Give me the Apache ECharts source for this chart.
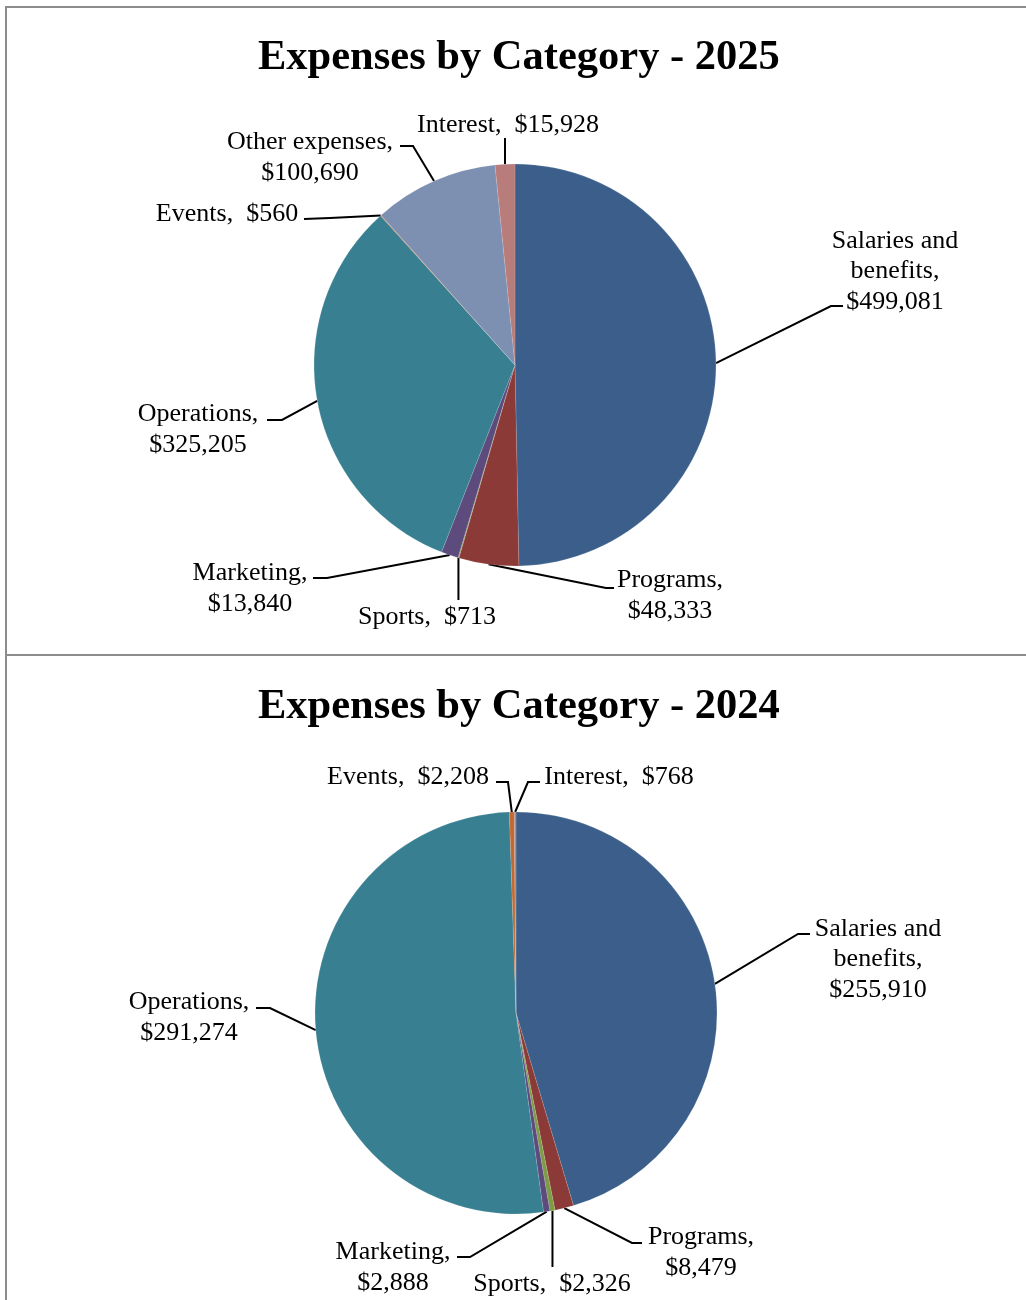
<!DOCTYPE html>
<html>
<head>
<meta charset="utf-8">
<script src="https://cdn.jsdelivr.net/npm/echarts@6/dist/echarts.min.js"></script>
<style>
  html, body { margin: 0; padding: 0; background: #fff; }
  #wrap { position: relative; width: 1026px; height: 1300px; overflow: hidden; background: #fff; }
  .box { position: absolute; border: 2px solid #8c8c8c; box-sizing: border-box; }
  #chart { position: absolute; left: 0; top: 0; width: 1026px; height: 1300px; }
</style>
</head>
<body>
<div id="wrap">
  <div class="box" style="left:5px; top:6px; width:1040px; height:650px;"></div>
  <div class="box" style="left:5px; top:654px; width:1040px; height:700px;"></div>
  <div id="chart"></div>
</div>
<script>
// ---- Data ----
const categories2025 = ['Salaries and benefits', 'Programs', 'Sports', 'Marketing', 'Operations', 'Events', 'Other expenses', 'Interest'];
const values2025 = [499081, 48333, 713, 13840, 325205, 560, 100690, 15928];

const categories2024 = ['Salaries and benefits', 'Programs', 'Sports', 'Marketing', 'Operations', 'Events', 'Interest'];
const values2024 = [255910, 8479, 2326, 2888, 291274, 2208, 768];

const titles = ['Expenses by Category - 2025', 'Expenses by Category - 2024'];

// ---- Styles ----
const colorMap = {
  'Salaries and benefits': '#3B5F8A',
  'Programs': '#8C3A37',
  'Sports': '#7E9B45',
  'Marketing': '#5E4B7E',
  'Operations': '#377F91',
  'Events': '#C06A33',
  'Other expenses': '#7D90B1',
  'Interest': '#B87C7B'
};
// label display: how the name wraps
const wrapMap = {
  'Salaries and benefits': 'Salaries and\nbenefits,\n',
  'Programs': 'Programs,\n',
  'Sports': 'Sports,  ',
  'Marketing': 'Marketing,\n',
  'Operations': 'Operations,\n',
  'Events': 'Events,  ',
  'Other expenses': 'Other expenses,\n',
  'Interest': 'Interest,  '
};

// label layout per series: [labelX, labelY, align, elbowX, elbowY, endX, endY] (null = same x as edge point)
const layout2025 = [
  [895, 271.5, 'center', 831, 306, 843, 306],
  [670, 595.5, 'center', 606, 588, 614, 588],
  [427, 617.5, 'center', null, 600, null, 600],
  [250, 588.5, 'center', 327, 578, 313, 578],
  [198, 429.5, 'center', 282, 420, 267, 420],
  [227, 214.5, 'center', 330, 218, 304, 219],
  [310, 157.5, 'center', 413, 146, 400, 146],
  [508, 125.5, 'center', null, 138, null, 138]
];
const layout2024 = [
  [878, 959.5, 'center', 798, 934, 810, 934],
  [701, 1252.5, 'center', 632, 1243, 642, 1243],
  [552, 1284.5, 'center', null, 1267, null, 1267],
  [393, 1267.5, 'center', 470, 1257, 457, 1257],
  [189, 1017.5, 'center', 270, 1008, 256, 1008],
  [408, 777.5, 'center', 508, 782, 496, 782],
  [619, 777.5, 'center', 528, 782, 540, 782]
];
const layouts = [layout2025, layout2024];

function fmt(v) { return '$' + v.toLocaleString('en-US'); }

function buildData(cats, vals) {
  return cats.map((c, i) => ({ name: c, value: vals[i], itemStyle: { color: colorMap[c] } }));
}

function makeLayout(seriesIdx) {
  return function (params) {
    const l = layouts[seriesIdx][params.dataIndex];
    const p0 = params.labelLinePoints ? params.labelLinePoints[0] : null;
    const res = { x: l[0], y: l[1], align: l[2], verticalAlign: 'middle' };
    if (p0) {
      const ex = l[3] === null ? p0[0] : l[3];
      const fx = l[5] === null ? p0[0] : l[5];
      res.labelLinePoints = [[p0[0], p0[1]], [ex, l[4]], [fx, l[6]]];
    }
    return res;
  };
}

const fontFam = '"Liberation Serif", "Times New Roman", serif';
const labelStyle = {
  show: true,
  position: 'outside',
  color: '#000',
  fontFamily: fontFam,
  fontSize: 26,
  lineHeight: 30.5,
  formatter: function (p) { return wrapMap[p.name] + fmt(p.value); }
};
const lineStyle = { show: true, length: 20, length2: 10, lineStyle: { color: '#000', width: 2 } };
const titleStyle = { fontFamily: fontFam, fontWeight: 'bold', fontSize: 42.5, color: '#000' };

const chart = echarts.init(document.getElementById('chart'), null, { renderer: 'canvas' });
chart.setOption({
  backgroundColor: 'transparent',
  animation: false,
  title: [
    { text: titles[0], left: 253, top: 32, textStyle: titleStyle },
    { text: titles[1], left: 253, top: 681, textStyle: titleStyle }
  ],
  series: [
    {
      type: 'pie',
      center: [515, 365],
      radius: [0, 201],
      startAngle: 90,
      clockwise: true,
      avoidLabelOverlap: false,
      data: buildData(categories2025, values2025),
      itemStyle: { borderColor: 'rgba(255,255,255,0.25)', borderWidth: 0.5 },
      label: labelStyle,
      labelLine: lineStyle,
      labelLayout: makeLayout(0),
      emphasis: { disabled: true }
    },
    {
      type: 'pie',
      center: [516, 1013],
      radius: [0, 201],
      startAngle: 90,
      clockwise: true,
      avoidLabelOverlap: false,
      data: buildData(categories2024, values2024),
      itemStyle: { borderColor: 'rgba(255,255,255,0.25)', borderWidth: 0.5 },
      label: labelStyle,
      labelLine: lineStyle,
      labelLayout: makeLayout(1),
      emphasis: { disabled: true }
    }
  ]
});
</script>
</body>
</html>
